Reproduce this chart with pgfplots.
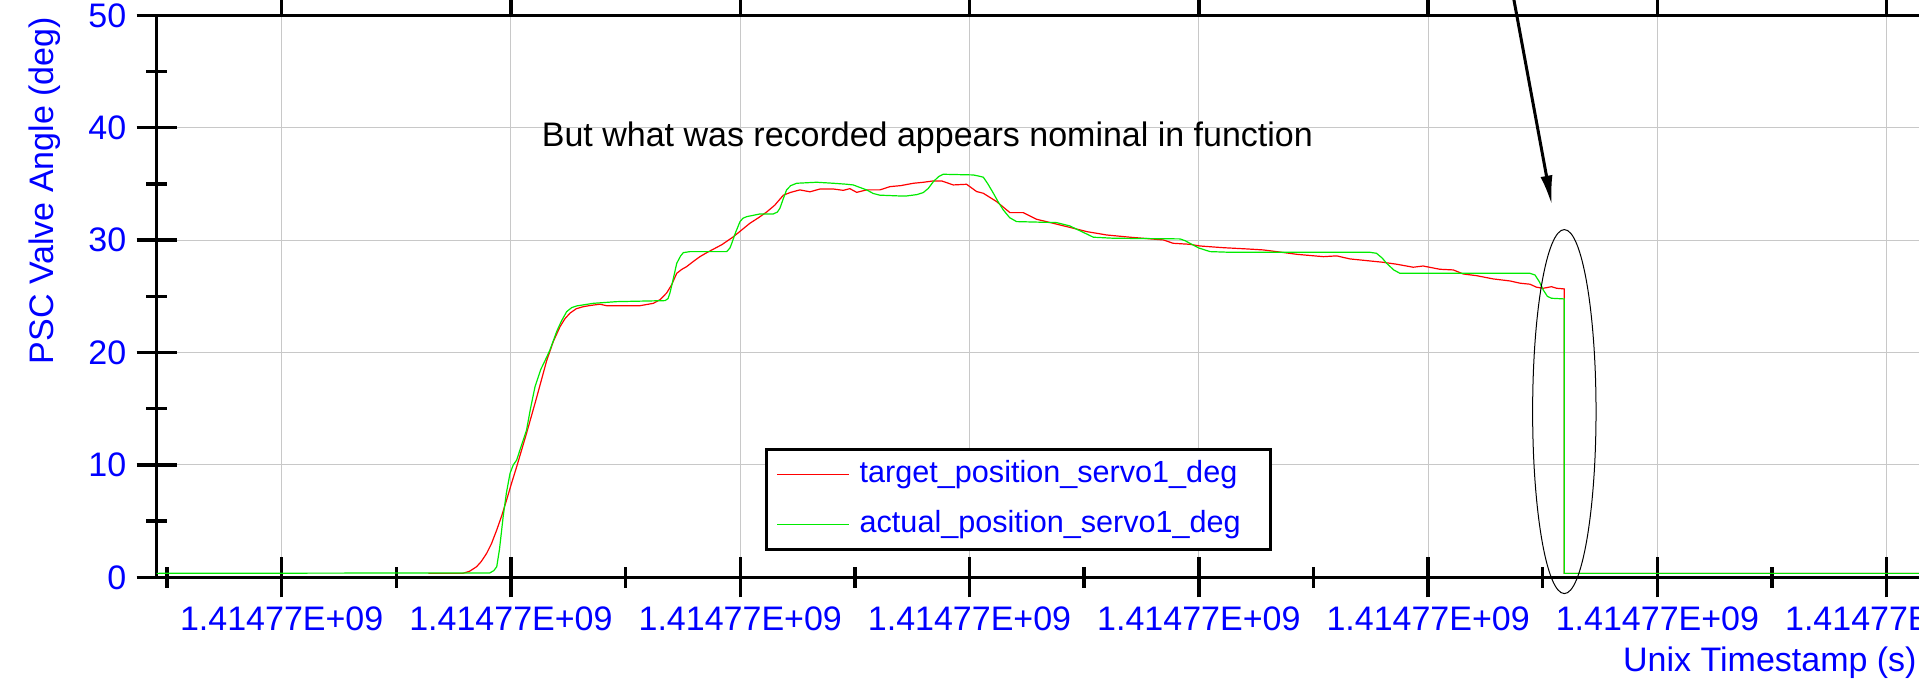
\documentclass[border=0pt]{standalone}
\usepackage{fontspec}
\setmainfont{Liberation Sans}
\usepackage{pgfplots}
\pgfplotsset{compat=1.18}
\usetikzlibrary{arrows.meta}
\definecolor{tblue}{RGB}{0,0,255}
\definecolor{tred}{RGB}{255,0,0}
\definecolor{tgreen}{RGB}{0,235,0}
\definecolor{tgrid}{RGB}{200,200,200}

\begin{document}
\begin{tikzpicture}
\begin{axis}[
  name=ax, at={(0,0)}, anchor=south west,
  scale only axis, width=933.8pt, height=281.05pt,
  xmin=-0.545, xmax=7.6, ymin=0, ymax=50,
  clip=false,
  axis line style={line width=1.7pt},
  xtick={0,...,7}, minor xtick={-0.5,0.5,...,7.5},
  ytick={0,10,...,50}, minor ytick={5,15,...,45},
  xtick pos=left, ytick pos=left,
  tick align=center,
  major tick length=20pt, minor tick length=10.5pt,
  tick style={black, line width=1.7pt},
  grid=major, major grid style={tgrid, line width=0.5pt},
  xticklabel={1.41477E+09},
  /pgf/number format/assume math mode=true,
  ticklabel style={font=\fontsize{17}{20}\selectfont, text=tblue, inner sep=0pt},
  xticklabel style={anchor=north, yshift=-4.3pt},
  yticklabel style={anchor=east, xshift=-5pt},
  legend cell align=left,
  legend image code/.code={\draw[#1] (0pt,0pt) -- (36pt,0pt);},
  legend style={at={(axis description cs:0.3257,0.2302)}, anchor=north west,
    draw=black, line width=1.5pt, fill=white,
    inner xsep=5pt, inner ysep=5.25pt, row sep=10.5pt, column sep=5pt,
    font=\fontsize{15.3}{18}\selectfont, text=tblue,
    nodes={inner sep=0pt, text height=11pt, text depth=3.5pt}},
]
\addplot[tred, line width=0.6pt] coordinates {
(0.64,0.36) (0.79,0.36) (0.82,0.55) (0.85,0.95) (0.87,1.4) (0.894,2.14)
(0.915,3.0) (0.938,4.22) (0.96,5.5) (0.981,6.89) (1.003,8.4) (1.025,9.85)
(1.068,12.82) (1.112,16.0) (1.156,19.3) (1.185,21.0) (1.214,22.3) (1.235,23.0)
(1.257,23.5) (1.285,23.9) (1.315,24.08) (1.35,24.2) (1.388,24.3) (1.417,24.17)
(1.49,24.17) (1.563,24.17) (1.621,24.38) (1.65,24.7) (1.679,25.3) (1.70,26.0)
(1.723,27.05) (1.745,27.4) (1.766,27.64) (1.795,28.1) (1.824,28.53) (1.855,28.9)
(1.882,29.19) (1.92,29.6) (1.97,30.3) (2.0,30.8) (2.042,31.5) (2.08,32.0)
(2.115,32.5) (2.15,33.1) (2.188,34.0) (2.22,34.25) (2.26,34.47) (2.304,34.3)
(2.348,34.55) (2.406,34.55) (2.449,34.43) (2.478,34.58) (2.508,34.25) (2.551,34.47)
(2.609,34.47) (2.653,34.76) (2.70,34.85) (2.755,35.06) (2.80,35.15) (2.842,35.27)
(2.878,35.27) (2.929,34.91) (2.987,34.97) (3.031,34.32) (3.060,34.17) (3.118,33.43)
(3.176,32.45) (3.234,32.45) (3.292,31.86) (3.365,31.5) (3.452,31.06) (3.511,30.76)
(3.598,30.46) (3.700,30.26) (3.845,30.02) (3.888,29.72) (3.961,29.63) (4.005,29.48)
(4.106,29.33) (4.208,29.22) (4.281,29.13) (4.35,28.95) (4.427,28.74) (4.543,28.53)
(4.601,28.6) (4.659,28.33) (4.746,28.15) (4.804,28.03) (4.862,27.86) (4.935,27.59)
(4.978,27.7) (5.051,27.41) (5.110,27.35) (5.153,26.99) (5.211,26.84) (5.284,26.55)
(5.357,26.37) (5.401,26.17) (5.444,26.08) (5.473,25.81) (5.502,25.72) (5.538,25.86)
(5.560,25.72) (5.594,25.66) (5.594,0.36) (7.6,0.36)
};
\addlegendentry{target\_position\_servo1\_deg}
\addplot[tgreen, line width=0.6pt] coordinates {
(-0.545,0.36) (0.908,0.40) (0.925,0.6) (0.938,0.95) (0.95,2.5) (0.966,5.4)
(0.98,7.5) (0.996,9.26) (1.01,10.0) (1.025,10.44) (1.045,11.7) (1.068,13.11)
(1.085,15.0) (1.105,16.97) (1.13,18.5) (1.156,19.6) (1.170,20.23) (1.20,21.9)
(1.22,22.8) (1.243,23.64) (1.265,24.0) (1.287,24.15) (1.359,24.38) (1.461,24.53)
(1.672,24.62) (1.685,24.8) (1.693,25.27) (1.705,26.3) (1.723,27.94) (1.74,28.6)
(1.752,28.89) (1.781,28.98) (1.941,28.98) (1.955,29.3) (1.963,29.72) (1.98,30.7)
(1.999,31.65) (2.012,31.95) (2.028,32.09) (2.086,32.33) (2.144,32.33) (2.162,32.5)
(2.173,32.84) (2.188,33.7) (2.202,34.47) (2.22,34.85) (2.246,35.06) (2.333,35.15)
(2.406,35.06) (2.46,34.98) (2.493,34.91) (2.52,34.7) (2.551,34.47) (2.58,34.15)
(2.609,34.0) (2.696,33.93) (2.725,33.93) (2.77,34.05) (2.798,34.23) (2.82,34.6)
(2.842,35.2) (2.865,35.65) (2.885,35.86) (3.016,35.8) (3.040,35.7) (3.060,35.6)
(3.08,35.0) (3.104,34.17) (3.125,33.4) (3.147,32.69) (3.175,32.0) (3.205,31.65)
(3.380,31.56) (3.438,31.26) (3.49,30.75) (3.540,30.26) (3.627,30.17) (3.918,30.11)
(3.94,29.95) (3.961,29.72) (4.0,29.3) (4.049,28.98) (4.136,28.92) (4.746,28.92)
(4.775,28.83) (4.80,28.4) (4.819,27.94) (4.85,27.35) (4.877,27.05) (5.444,27.05)
(5.466,26.9) (5.485,26.3) (5.502,25.57) (5.52,25.0) (5.538,24.83) (5.594,24.77)
(5.594,0.36) (7.6,0.36)
};
\addlegendentry{\makebox[200.5pt][l]{actual\_position\_servo1\_deg}}
\node[anchor=west, inner sep=0pt, font=\fontsize{17}{20}\selectfont] at (axis cs:1.133,39.09) {But what was recorded appears nominal in function};
\node[rotate=90, inner sep=0pt, text=tblue, font=\fontsize{17}{20}\selectfont] at (axis cs:-1.032,34.4) {PSC Valve Angle (deg)};
\node[anchor=east, inner sep=0pt, text=tblue, font=\fontsize{17}{20}\selectfont] at (axis cs:7.132,-7.62) {Unix Timestamp (s)};
\draw[line width=0.5pt] (axis cs:5.594,14.75) ellipse [x radius=15.85pt, y radius=91pt];
\draw[line width=1.5pt, -{Latex[length=15pt,width=6pt]}] (axis cs:5.350,54.04) -- (axis cs:5.540,33.08);
\end{axis}
\begin{axis}[
  at={(0,0)}, anchor=south west,
  scale only axis, width=933.8pt, height=281.05pt,
  xmin=-0.545, xmax=7.6, ymin=0, ymax=50,
  hide y axis, axis x line*=top, x axis line style={draw=none},
  xtick={0,...,7}, xticklabels={}, minor xtick={},
  tick align=outside, major tick length=20pt,
  tick style={black, line width=1.7pt},
]
\addplot[draw=none] coordinates {(0,0)};
\end{axis}
\pgfresetboundingbox
\path[use as bounding box] ([shift={(-78.35pt,-54.3pt)}]ax.south west) rectangle ([shift={(881.15pt,288.7pt)}]ax.south west);
\end{tikzpicture}
\end{document}
